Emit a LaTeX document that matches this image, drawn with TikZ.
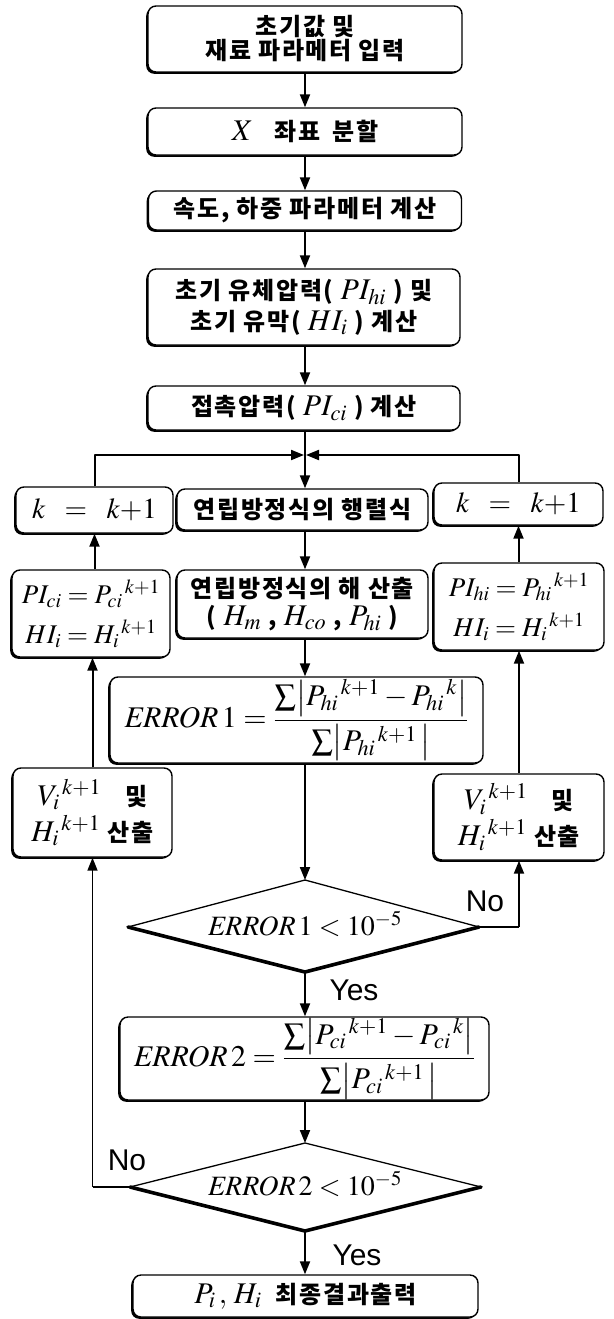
\documentclass[tikz,border=0pt]{standalone}
\usepackage{mathptmx}
\usepackage[no-math]{fontspec}
\newfontfamily\kr{Noto Sans CJK KR}[LetterSpace=7]
\newfontfamily\yn{Liberation Sans}
\usetikzlibrary{arrows.meta,shadows}
\newcommand{\mth}[1]{{\fontsize{30}{30}\selectfont$#1$}}
\begin{document}
\begin{tikzpicture}[x=1pt,y=-1pt,line join=round,
  box/.style={draw,line width=1.4pt,rounded corners=8pt,fill=white,
    drop shadow={shadow xshift=-1.8pt,shadow yshift=-1.8pt,fill=black,opacity=1},
    inner sep=0pt,align=center,
    font={\kr\bfseries\fontsize{24}{26}\selectfont}},
  arr/.style={line width=2pt,-{Triangle[length=13pt,width=10pt]}},
  ln/.style={line width=2pt},
  thin/.style={line width=1.3pt},
  thick/.style={line width=3.6pt,line cap=round},
  lab/.style={font={\yn\fontsize{30}{30}\selectfont},inner sep=0pt}]
\fill[white] (0,0) rectangle (613,1319);
\useasboundingbox (0,0) rectangle (613,1319);

% main column
\node[box,minimum width=314pt,minimum height=66pt,font={\kr\bfseries\fontsize{24}{24}\selectfont}] (init) at (305,39) {초기값 및\\재료 파라메터 입력};
\node[box,minimum width=314pt,minimum height=47pt] (xdiv) at (305,131.5) {\mth{X}\hspace{0.9em}좌표\hspace{0.5em}분할};
\node[box,minimum width=313pt,minimum height=39pt] (speed) at (305,210.5) {속도, 하중 파라메터 계산};
\node[box,minimum width=312pt,minimum height=76pt,font={\kr\bfseries\fontsize{24}{31}\selectfont}] (initp) at (304,307) {초기 유체압력( \mth{PI_{hi}} ) 및\\초기 유막( \mth{HI_{i}} ) 계산};
\node[box,minimum width=312pt,minimum height=44pt] (contact) at (304,408) {접촉압력( \mth{PI_{ci}} ) 계산};
\coordinate (J) at (305,455);
\node[box,minimum width=251pt,minimum height=41pt] (matrix) at (302.5,509.5) {연립방정식의 행렬식};
\node[box,minimum width=157pt,minimum height=46pt,font={\fontsize{29}{30}\selectfont}] (kL) at (94.5,510) {$k\;\;=\;\;k{+}1$};
\node[box,minimum width=169pt,minimum height=42pt,font={\fontsize{29}{30}\selectfont}] (kR) at (518.5,504) {$k\;\;=\;\;k{+}1$};
\node[box,minimum width=251pt,minimum height=68pt,font={\kr\bfseries\fontsize{24}{28}\selectfont}] (solve) at (302.5,604) {연립방정식의 해 산출\\( \mth{H_{m}} , \mth{H_{co}} , \mth{P_{hi}} )};
\node[box,minimum width=158pt,minimum height=87pt,font={\fontsize{27}{40}\selectfont}] (PIc) at (91,613.5) {$PI_{ci}=P_{ci}{}^{\,k+1}$\\$HI_{i}=H_{i}{}^{\,k+1}$};
\node[box,minimum width=170pt,minimum height=87pt,font={\fontsize{27}{40}\selectfont}] (PIh) at (519,606.5) {$PI_{hi}=P_{hi}{}^{\,k+1}$\\$HI_{i}=H_{i}{}^{\,k+1}$};
\node[box,minimum width=373pt,minimum height=86pt,font={\fontsize{30}{32}\selectfont}] (E1) at (296.5,720) {$\displaystyle \mathit{ERROR}\,1=\frac{\sum\bigl|P_{hi}{}^{\,k+1}-P_{hi}{}^{\,k}\bigr|}{\sum\bigl|P_{hi}{}^{\,k+1}\,\bigr|}$};
\node[box,minimum width=159pt,minimum height=89pt,font={\kr\bfseries\fontsize{24}{36}\selectfont}] (VL) at (92.5,812.5) {\mth{V_{i}{}^{\,k+1}}\quad 및\\\mth{H_{i}{}^{\,k+1}} 산출};
\node[box,minimum width=170pt,minimum height=86pt,font={\kr\bfseries\fontsize{24}{36}\selectfont}] (VR) at (519,817) {\mth{V_{i}{}^{\,k+1}}\quad 및\\\mth{H_{i}{}^{\,k+1}} 산출};

% decision 1
\coordinate (D1n) at (305,880);
\coordinate (D1w) at (128,927);
\coordinate (D1e) at (479,927);
\coordinate (D1s) at (305,972);
\draw[thin] (D1w) -- (D1n) -- (D1e);
\draw[thick] (D1w) -- (D1s) -- (D1e);
\node[inner sep=0pt,font={\fontsize{28}{30}\selectfont}] (D1) at (305,924) {$\mathit{ERROR}\,1 < 10^{-5}$};

\node[box,minimum width=369pt,minimum height=83pt,font={\fontsize{30}{32}\selectfont}] (E2) at (304.5,1058.5) {$\displaystyle \mathit{ERROR}\,2=\frac{\sum\bigl|P_{ci}{}^{\,k+1}-P_{ci}{}^{\,k}\bigr|}{\sum\bigl|P_{ci}{}^{\,k+1}\,\bigr|}$};

% decision 2
\coordinate (D2n) at (305,1143);
\coordinate (D2w) at (130,1187);
\coordinate (D2e) at (481,1187);
\coordinate (D2s) at (305,1231);
\draw[thin] (D2w) -- (D2n) -- (D2e);
\draw[thick] (D2w) -- (D2s) -- (D2e);
\node[inner sep=0pt,font={\fontsize{28}{30}\selectfont}] (D2) at (305,1184) {$\mathit{ERROR}\,2 < 10^{-5}$};

\node[box,minimum width=345pt,minimum height=42pt] (final) at (305.5,1296) {\mth{P_{i}\,,\,H_{i}}\hspace{0.6em}최종결과출력};

% labels
\node[lab] (no1) at (485,901) {No};
\node[lab] (yes1) at (354,990) {Yes};
\node[lab] (no2) at (127,1160) {No};
\node[lab] (yes2) at (357,1255) {Yes};

% connectors
\draw[arr] (init.south -| J) -- (J |- xdiv.north);
\draw[arr] (xdiv.south -| J) -- (J |- speed.north);
\draw[arr] (speed.south -| J) -- (J |- initp.north);
\draw[arr] (initp.south -| J) -- (J |- contact.north);
\draw[ln] (contact.south -| J) -- (J);
\draw[arr] (J) -- (J |- matrix.north);
\draw[arr,shorten >=1pt] (kL.north) |- (J);
\draw[arr,shorten >=1pt] (kR.north) |- (J);
\draw[arr] (matrix.south -| J) -- (J |- solve.north);
\draw[arr] (solve.south -| J) -- (J |- E1.north);
\draw[arr] (E1.south -| J) -- (D1n);
\draw[ln] (D1e) -- (D1e -| VR.south);
\draw[arr] (D1e -| VR.south) -- (VR.south);
\draw[arr] (VR.north) -- (VR.north |- PIh.south);
\draw[arr] (PIh.north -| kR) -- (kR.south);
\draw[arr] (D1s) -- (D1s |- E2.north);
\draw[arr] (E2.south -| D1s) -- (D2n);
\draw[thin] (D2w) -- (D2w -| VL.south);
\draw[arr,line width=1.5pt] (D2w -| VL.south) -- (VL.south);
\draw[arr] (VL.north) -- (VL.north |- PIc.south);
\draw[arr] (PIc.north -| kL) -- (kL.south);
\draw[arr] (D2s) -- (D2s |- final.north);
\end{tikzpicture}
\end{document}
